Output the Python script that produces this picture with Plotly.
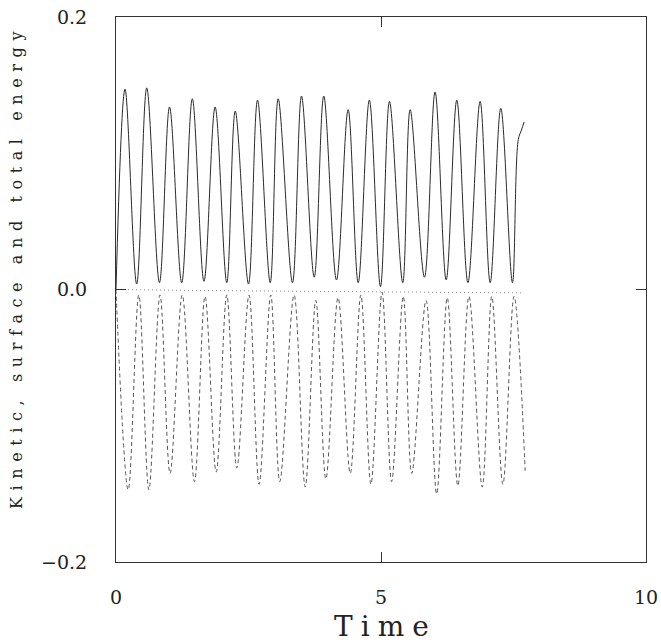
import plotly.graph_objects as go

# Kinetic energy (solid): turning points
kin_t = [0.0, 0.17, 0.39, 0.58, 0.82, 1.01, 1.24, 1.44, 1.66, 1.87, 2.09, 2.25, 2.50, 2.67,
         2.91, 3.06, 3.33, 3.50, 3.74, 3.92, 4.16, 4.38, 4.57, 4.78, 4.99, 5.16, 5.41, 5.55,
         5.82, 6.02, 6.23, 6.43, 6.64, 6.87, 7.06, 7.26, 7.48, 7.59, 7.65, 7.70]
kin_e = [0.0, 0.147, 0.004, 0.148, 0.005, 0.134, 0.005, 0.140, 0.006, 0.134, 0.005, 0.131, 0.004, 0.139,
         0.005, 0.140, 0.005, 0.142, 0.009, 0.142, 0.007, 0.132, 0.005, 0.139, 0.002, 0.138, 0.005, 0.132,
         0.009, 0.145, 0.007, 0.139, 0.005, 0.138, 0.005, 0.133, 0.005, 0.110, 0.117, 0.123]

# Surface energy (dashed)
surf_t = [0.0, 0.23, 0.43, 0.62, 0.83, 1.02, 1.25, 1.48, 1.68, 1.89, 2.09, 2.28, 2.51, 2.70,
          2.92, 3.09, 3.36, 3.57, 3.77, 3.96, 4.19, 4.42, 4.62, 4.81, 5.02, 5.20, 5.42, 5.58,
          5.85, 6.05, 6.25, 6.45, 6.66, 6.91, 7.09, 7.30, 7.51, 7.72]
surf_e = [0.0, -0.147, -0.004, -0.147, -0.004, -0.135, -0.004, -0.141, -0.005, -0.134, -0.004, -0.131,
          -0.004, -0.143, -0.004, -0.141, -0.004, -0.145, -0.008, -0.139, -0.006, -0.135, -0.004, -0.143,
          -0.002, -0.141, -0.005, -0.135, -0.008, -0.150, -0.006, -0.144, -0.005, -0.145, -0.005, -0.143,
          -0.005, -0.133]

# Total energy (dotted)
tot_t = [0.0, 0.8, 1.5, 2.5, 3.5, 4.5, 5.5, 6.5, 7.2, 7.7]
tot_e = [0.0, -0.0005, -0.0007, -0.0010, -0.0012, -0.0015, -0.0018, -0.0020, -0.0022, -0.0025]

x_ticks = [0, 5, 10]
x_labels = ["0", "5", "10"]
y_ticks = [-0.2, 0.0, 0.2]
y_labels = ["\u22120.2", "0.0", "0.2"]

SERIF = "DejaVu Serif, Liberation Serif, serif"


def spaced(s, px):
    return '<span style="letter-spacing:%spx">%s</span>' % (px, s)


fig = go.Figure()
fig.add_trace(go.Scatter(x=kin_t, y=kin_e, mode="lines",
                         line=dict(color="#2a2a2a", width=1, shape="spline", smoothing=1.0),
                         showlegend=False, name="Kinetic"))
fig.add_trace(go.Scatter(x=surf_t, y=surf_e, mode="lines",
                         line=dict(color="#555555", width=1, dash="4px,3px", shape="spline", smoothing=1.0),
                         showlegend=False, name="Surface"))
fig.add_trace(go.Scatter(x=tot_t, y=tot_e, mode="lines",
                         line=dict(color="#888888", width=1, dash="1px,3px"),
                         showlegend=False, name="Total"))

W, H = 661, 643
L, R, T, B = 116, 15, 17, 81
plot_w = W - L - R
plot_h = H - T - B


def px_x(sx):
    return (sx - L) / plot_w


def px_y(sy):
    return (H - B - sy) / plot_h


fig.update_layout(
    width=W, height=H,
    margin=dict(l=L, r=R, t=T, b=B, autoexpand=False),
    paper_bgcolor="white", plot_bgcolor="white",
    font=dict(family=SERIF, color="#222222"),
    xaxis=dict(range=[0, 10], tickvals=x_ticks, ticktext=x_labels,
               ticks="inside", ticklen=10, automargin=False, ticklabeloverflow="allow",
               tickcolor="#333333", showline=True, linecolor="#333333", linewidth=1, mirror="ticks",
               showgrid=False, zeroline=False, tickfont=dict(size=19, family=SERIF),
               ticklabelstandoff=18),
    yaxis=dict(range=[-0.2, 0.2], tickvals=y_ticks, ticktext=y_labels,
               ticks="inside", ticklen=10, automargin=False, ticklabeloverflow="allow",
               tickcolor="#333333", showline=True, linecolor="#333333", linewidth=1, mirror="ticks",
               showgrid=False, zeroline=False, tickfont=dict(size=19, family=SERIF),
               ticklabelstandoff=24),
    annotations=[
        dict(text=spaced("Time", 8), x=px_x(385), y=px_y(626),
             xref="paper", yref="paper", showarrow=False, yanchor="middle", xanchor="center",
             font=dict(size=28, family=SERIF, color="#222222")),
        dict(text=spaced("Kinetic, surface and total energy", 6.6),
             x=px_x(16), y=px_y(267), xref="paper", yref="paper",
             showarrow=False, textangle=-90, xanchor="center", yanchor="middle",
             font=dict(size=16, family=SERIF, color="#222222")),
    ],
)

# remove the browser's default 8px body margin so the figure fills the window exactly
fig.write_html("out.html", config={"displayModeBar": False},
               post_script="document.body.style.margin='0px';")
